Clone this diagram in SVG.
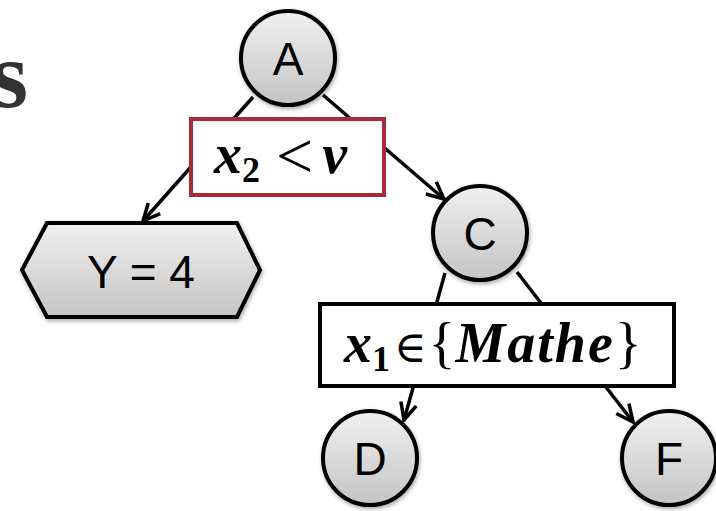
<svg xmlns="http://www.w3.org/2000/svg" width="716" height="511" viewBox="0 0 716 511">
<defs>
<linearGradient id="g" x1="0" y1="0" x2="0" y2="1">
<stop offset="0" stop-color="#f0f0f0"/>
<stop offset="1" stop-color="#c4c4c4"/>
</linearGradient>
<filter id="sh" x="-20%" y="-20%" width="140%" height="140%">
<feGaussianBlur in="SourceAlpha" stdDeviation="2"/>
<feOffset dx="1" dy="2" result="b"/>
<feComponentTransfer><feFuncA type="linear" slope="0.35"/></feComponentTransfer>
<feMerge><feMergeNode/><feMergeNode in="SourceGraphic"/></feMerge>
</filter>
<marker id="arr" viewBox="0 0 22 22" refX="20" refY="11" markerWidth="22" markerHeight="22" markerUnits="userSpaceOnUse" orient="auto">
<polyline points="3,3 20,11 3,19" fill="none" stroke="#000" stroke-width="3.5"/>
</marker>
<style>
.node{fill:url(#g);stroke:#000;stroke-width:4;filter:url(#sh)}
.lbl{font-family:"Liberation Sans",Arial,sans-serif;font-size:46px;fill:#000;text-anchor:middle}
.edge{stroke:#000;stroke-width:3.5;fill:none}
.box{fill:#fff;stroke-width:4}
.math{font-family:"Liberation Serif","Times New Roman","DejaVu Serif",serif;font-size:56px;fill:#000}
.bi{font-weight:bold;font-style:italic}
.sub{font-weight:bold;font-size:36px}
</style>
</defs>
<text x="28" y="107" font-family="Liberation Serif,serif" font-weight="bold" font-size="96" fill="#333" text-anchor="end">s</text>
<g id="connectors">
<line class="edge" x1="253" y1="97" x2="143" y2="221" marker-end="url(#arr)"/>
<line class="edge" x1="323" y1="95" x2="444" y2="199" marker-end="url(#arr)"/>
<line class="edge" x1="445" y1="273" x2="404" y2="420" marker-end="url(#arr)"/>
<line class="edge" x1="517" y1="272" x2="633" y2="422" marker-end="url(#arr)"/>
</g>
<g id="A">
<circle class="node" cx="288" cy="58" r="47"/>
<text class="lbl" x="288" y="75">A</text>
</g>
<g id="cond1">
<rect class="box" x="191" y="119" width="193" height="76" stroke="#a52a3a"/>
<text class="math" x="214" y="173"><tspan class="bi">x</tspan><tspan class="sub" dy="9">2</tspan><tspan dy="-4" dx="16" font-size="66" font-weight="normal">&lt;</tspan><tspan class="bi" dx="9" dy="-5">v</tspan></text>
</g>
<g id="Y">
<polygon class="node" points="22,270 47,223 237,223 260,270 237,317 47,317"/>
<text class="lbl" x="141" y="288" font-size="49">Y = 4</text>
</g>
<g id="C">
<circle class="node" cx="480" cy="233" r="47"/>
<text class="lbl" x="480" y="250">C</text>
</g>
<g id="cond2">
<rect class="box" x="320" y="304" width="354" height="82" stroke="#000"/>
<text class="math" x="344" y="362"><tspan class="bi">x</tspan><tspan class="sub" dy="9">1</tspan><tspan dy="-9" dx="4" font-size="44">∈</tspan><tspan dx="2">{</tspan><tspan class="bi" letter-spacing="2">Mathe</tspan><tspan>}</tspan></text>
</g>
<g id="D">
<circle class="node" cx="370" cy="458" r="47"/>
<text class="lbl" x="370" y="475">D</text>
</g>
<g id="F">
<circle class="node" cx="669" cy="458" r="47"/>
<text class="lbl" x="669" y="475">F</text>
</g>
</svg>
